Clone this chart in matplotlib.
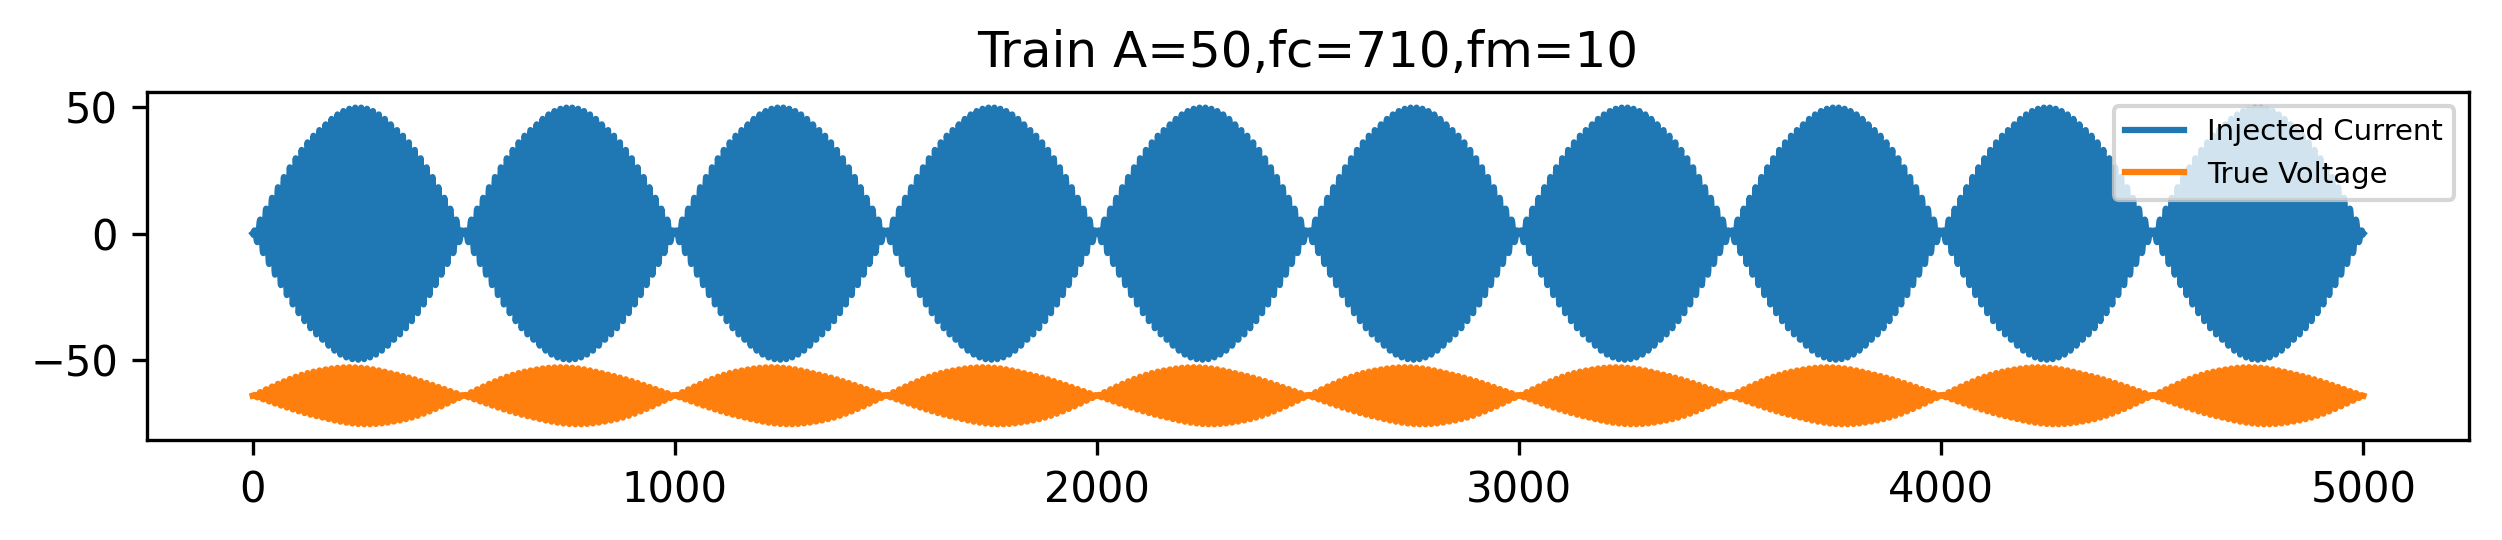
import numpy as np
import matplotlib
matplotlib.use('Agg')
import matplotlib.pyplot as plt

# stimulus settings, as given in the title
A = 50
fc = 710
fm = 10
fs = 10000          # samples per second
n_samples = 5001

# voltage trace
v_rest = -64.3      # centre of the orange band
v_amp = 11.2        # half height of the band at the envelope peak
v_skew = 0.9        # upper edge peaks early, lower edge late

t = np.arange(n_samples) / fs
envelope = np.sin(2 * np.pi * fm * t)
carrier = np.sin(2 * np.pi * fc * t)
injected = A * envelope * carrier

slow = v_skew * np.sin(4 * np.pi * fm * t)
true_v = v_rest + slow + v_amp * np.abs(envelope) * np.sign(envelope) * carrier

fig = plt.figure(figsize=(8.34, 1.8), dpi=300)
ax = fig.add_axes([0.0588, 0.185, 0.928, 0.645])
ax.plot(injected, label='Injected Current')
ax.plot(true_v, label='True Voltage')
ax.set_title('Train A=50,fc=710,fm=10')
ax.legend(loc='upper right', fontsize=7)

fig.savefig('out.png', dpi=300)
